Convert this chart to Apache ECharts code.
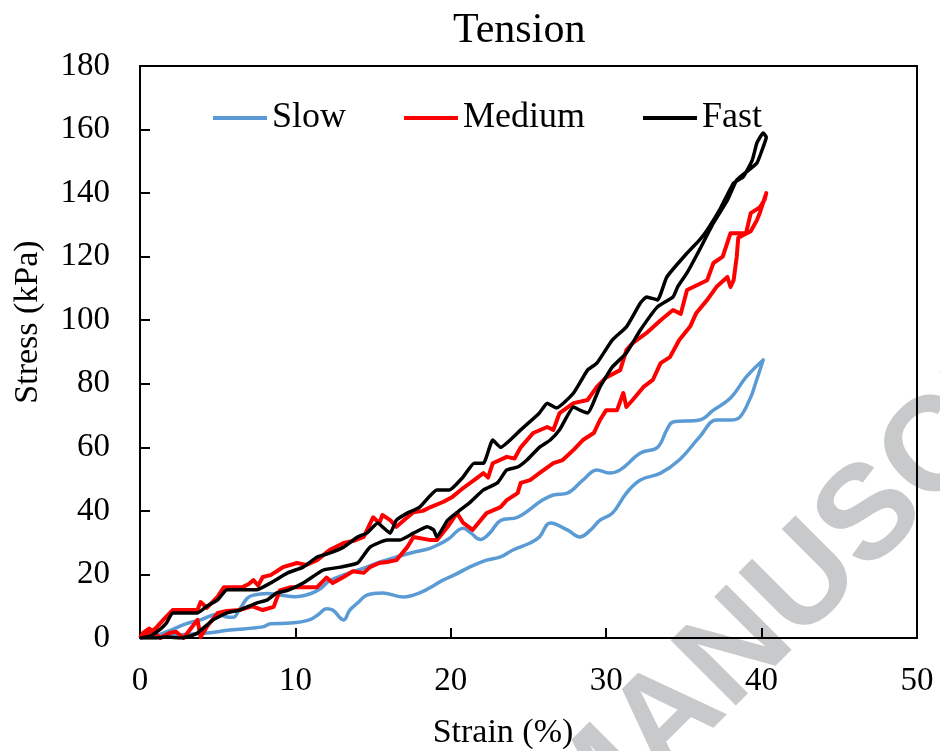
<!DOCTYPE html>
<html>
<head>
<meta charset="utf-8">
<script src="https://cdn.jsdelivr.net/npm/echarts@6/dist/echarts.min.js"></script>
<style>
html,body{margin:0;padding:0;background:#fff;}
#chart{width:940px;height:751px;}
</style>
</head>
<body>
<div id="chart"></div>
<script>
// ---- Data (strain %, stress kPa), loading then unloading ----
var seriesNames = ['Slow', 'Medium', 'Fast'];
var xTicks = [0, 10, 20, 30, 40, 50];
var yTicks = [0, 20, 40, 60, 80, 100, 120, 140, 160, 180];

var slowLoading = [[0,0],[0.6,0.5],[1.1,0.8],[2,2.5],[3,4.5],[3.9,5.7],[5,7.5],[5.6,6.6],[6,6.5],[6.4,9],[6.9,12.5],[7.3,13.5],[8.2,14],[9,13.5],[10,13],[11,14],[11.6,15.5],[12.2,18],[13.2,20],[14.4,22],[15.5,24],[16.5,25.5],[17.6,27],[18.7,28.3],[19.8,31],[20.8,34.5],[21.3,33],[21.9,31],[22.5,33],[23.2,37],[24.3,38],[25.9,43.4],[26.6,45],[27.5,45.6],[28.5,49.7],[29.4,52.9],[30.2,51.9],[30.9,52.9],[32.2,58.2],[33.3,60],[33.9,65.5],[34.3,68],[36,68.6],[36.9,71.7],[38,75.5],[39,82.1],[40.1,87.5]];
var slowUnloading = [[40.1,87.5],[39.6,80],[39.3,75.8],[38.6,69.5],[38,68.6],[37.1,68.6],[36,63.2],[34.7,56],[33.5,51.9],[32.2,49.7],[31.3,45.6],[30.4,39.3],[29.6,37.1],[29,34],[28.3,31.8],[27.5,34],[26.4,36.2],[25.7,31.8],[25.1,29.9],[24,27.7],[23.2,25.5],[22.3,24.5],[21.2,22.3],[20.3,20],[19.5,18.2],[18,14.2],[16.9,12.9],[15.6,14.2],[14.6,13.5],[14,11],[13.5,8.8],[13.1,5.7],[12.4,8.8],[12,9.2],[11.5,7.5],[10.9,5.7],[9.7,4.7],[8.4,4.5],[7.9,3.5],[5.8,2.5],[4.3,1.6],[2.6,1],[1.1,0.3]];

var mediumLoading = [[0,0],[0.5,1.5],[1,3],[1.5,5.7],[2.1,8.8],[3,8.8],[3.7,8.8],[3.9,11.3],[4.3,9.5],[5,13],[5.4,16],[6,16],[6.6,16],[7,17],[7.3,18.2],[7.6,16.5],[7.9,19.2],[8.4,19.8],[8.8,21],[9.2,22.3],[10.1,23.6],[10.7,23],[11.4,24.5],[12.2,27.7],[13.1,29.9],[13.7,30.5],[14.4,31.8],[15,38],[15.4,36.2],[15.6,38.7],[16.1,37.1],[16.5,35],[17,37.1],[17.6,39.6],[18.2,40],[18.7,41.2],[19.5,42.8],[20.1,44.4],[20.8,47.2],[21.5,49.7],[22.1,51.9],[22.4,50.5],[22.7,55],[23.6,57],[24.1,56.5],[24.5,60],[25.3,64.5],[26.2,66.4],[26.6,65.5],[27,70.8],[27.9,73.9],[28.8,74.9],[29.4,79],[30,82],[30.9,84.3],[31.3,90.6],[31.7,92.8],[32.6,96],[33.5,100],[34.3,103.2],[34.8,102],[35.2,109.5],[36.5,112.6],[36.9,118],[37.5,120],[38,127.4],[39,127.4],[39.3,133.7],[39.9,135.6],[40.2,138],[40.3,140]];
var mediumUnloading = [[40.3,140],[39.9,134],[39.7,131.5],[39.3,128],[38.5,126],[38.4,120],[38.2,112.6],[38,110.5],[37.8,113.6],[37.1,110.5],[36.5,106.4],[35.8,102.3],[35.4,98],[34.7,93.8],[34.1,88.4],[33.5,86.5],[33,81.2],[32.4,79],[31.7,74.9],[31.3,72.7],[31.1,77.1],[30.7,71.7],[30,71.7],[29.6,68.6],[29.2,64.5],[28.5,62.3],[27.9,59.2],[27.2,56],[26.6,55],[25.7,51.9],[25.1,49.7],[24.5,48.8],[24.3,45.6],[23.6,43.4],[23.2,41.2],[22.3,39.3],[21.4,34],[20.8,36.2],[20.4,39.3],[19.8,35],[19.1,30.8],[18.7,30.8],[17.6,31.8],[17.2,28.6],[16.5,24.5],[15.9,23.9],[15.4,23.6],[14.8,22.3],[14.4,20.5],[13.7,21],[13.1,19.2],[12.4,17.3],[12,19],[11.4,16],[10.5,16],[9.7,16],[9,15],[8.6,9.8],[7.9,8.8],[7.2,10],[6.4,8.8],[5.6,8.5],[5,7.9],[4.3,3.5],[3.9,0.3],[3.7,5.7],[3.2,2.5],[2.8,0],[2.3,2],[1.9,1.6],[1.3,0],[0.6,3],[0.2,1.6],[0,0]];

var fastLoading = [[0,0],[0.6,0.5],[1.1,2],[1.7,4.7],[2.1,7.9],[3,7.9],[3.7,7.9],[4.3,10],[5,12],[5.6,15.2],[6.5,15.2],[7.5,15.2],[8.4,17.3],[9.5,20.5],[10.5,22.3],[11.4,25.5],[12.2,26.7],[13.1,28.6],[14,31.8],[14.6,33],[15.3,36.2],[15.6,35],[16.1,33],[16.5,37.1],[17.2,39.3],[18,41.2],[19.1,46.6],[19.9,46.6],[20.8,50.7],[21.5,55],[22.1,55],[22.7,62.3],[23.2,60],[24.5,65.5],[25.7,70.8],[26.2,73.9],[26.8,72.4],[27.9,77.1],[28.8,84.3],[29.4,86.5],[30.4,93.8],[31.3,97.9],[32.2,105.4],[32.6,107.3],[33.3,106.4],[33.9,113.6],[35.2,121.1],[36,125.2],[36.5,128.4],[37.3,134.7],[38.2,143.2],[38.8,145],[39.4,150.4],[39.7,155.8],[40.1,158.9],[40.3,157.6]];
var fastUnloading = [[40.3,157.6],[40.1,154.5],[39.7,149.5],[39,146.6],[38.4,144.1],[37.8,137.8],[36.9,130.6],[36,122.1],[35.2,114.9],[34.6,110.5],[34.3,107.3],[33.3,104.2],[32.2,96.9],[31.3,89.7],[30.4,85.3],[29.6,79],[28.8,70.8],[28.3,71.7],[27.9,72.7],[27,65.5],[26.4,62.3],[25.7,60],[24.9,56],[24.3,53.8],[23.6,52.9],[23,48.8],[22.1,46.6],[21.2,42.5],[20.6,40.3],[19.8,37.1],[19.1,31.8],[18.9,34],[18.5,35],[17.6,33],[16.7,30.8],[15.9,30.8],[14.8,28.6],[14,23.6],[12.9,22.3],[11.8,21.4],[10.5,17.3],[9.5,15],[8.8,14.2],[8.2,12],[7.5,11],[6.4,8.8],[5.6,7.9],[4.7,5.7],[3.7,1.6],[3,0.3],[2.6,0],[1.7,0.3],[1.1,0],[0,0]];

var colors = ['#5b9bd5', '#ff0000', '#000000'];
var serif = 'Liberation Serif';

var chart = echarts.init(document.getElementById('chart'));
function mainAxis(ticks, pos, margin) {
  return {
    type: 'value', position: pos,
    min: ticks[0], max: ticks[ticks.length - 1], interval: ticks[1] - ticks[0],
    axisLine: { show: true, onZero: false, lineStyle: { color: '#000', width: 2 } },
    axisTick: { show: true, inside: true, length: 10, lineStyle: { color: '#000', width: 2 } },
    axisLabel: { show: true, color: '#000', fontFamily: serif, fontSize: 33, margin: margin },
    splitLine: { show: false }
  };
}
function frameAxis(ticks, pos) {
  return {
    type: 'value', position: pos,
    min: ticks[0], max: ticks[ticks.length - 1], interval: ticks[1] - ticks[0],
    axisLine: { show: true, onZero: false, lineStyle: { color: '#000', width: 2 } },
    axisTick: { show: false }, axisLabel: { show: false }, splitLine: { show: false }
  };
}

var datasets = [slowLoading.concat(slowUnloading), mediumLoading.concat(mediumUnloading), fastLoading.concat(fastUnloading)];
var widths = [3.5, 4, 3.5];
var smooths = [0.4, false, 0.15];

var option = {
  animation: false,
  backgroundColor: '#fff',
  title: {
    text: 'Tension', left: 448, top: 5,
    textStyle: { fontFamily: serif, fontSize: 42, fontWeight: 'normal', color: '#000' }
  },
  grid: { left: 140, top: 66, right: 23, bottom: 113, show: false },
  legend: {
    left: 208, top: 95, icon: 'rect', itemWidth: 54, itemHeight: 4, itemGap: 58,
    textStyle: { fontFamily: serif, fontSize: 36, color: '#000', padding: [0, 0, 0, 0] },
    data: seriesNames
  },
  xAxis: [mainAxis(xTicks, 'bottom', 27), frameAxis(xTicks, 'top')],
  yAxis: [mainAxis(yTicks, 'left', 30), frameAxis(yTicks, 'right')],
  graphic: [
    {
      type: 'text', z: -10, zlevel: 0,
      x: 556, y: 833, rotation: Math.PI / 4,
      style: { text: 'MANUSCRIPT', fill: '#c8c9cb', fontFamily: 'Liberation Sans', fontWeight: 'bold', fontSize: 134, textAlign: 'left', textVerticalAlign: 'middle' }
    },
    {
      type: 'text', x: 28, y: 322, rotation: Math.PI / 2,
      style: { text: 'Stress (kPa)', fill: '#000', fontFamily: serif, fontSize: 34, textAlign: 'center', textVerticalAlign: 'middle' }
    },
    {
      type: 'text', x: 503, y: 733,
      style: { text: 'Strain (%)', fill: '#000', fontFamily: serif, fontSize: 34, textAlign: 'center', textVerticalAlign: 'middle' }
    }
  ],
  series: seriesNames.map(function (n, i) {
    return {
      name: n, type: 'line', data: datasets[i], showSymbol: false, symbol: 'none',
      xAxisIndex: 0, yAxisIndex: 0,
      smooth: smooths[i], color: colors[i],
      lineStyle: { color: colors[i], width: widths[i], join: 'round' },
      z: 3 + i
    };
  })
};
chart.setOption(option);
</script>
</body>
</html>
